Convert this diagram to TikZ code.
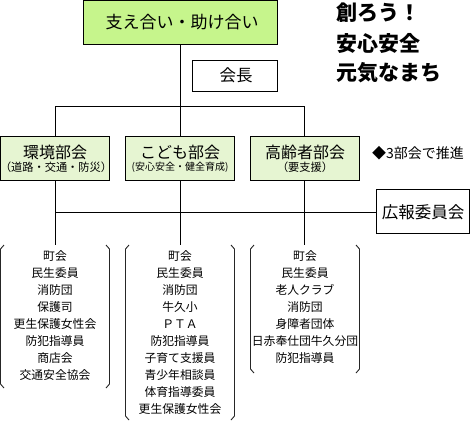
\documentclass[tikz,border=0pt]{standalone}
\usepackage{fontspec}
\setmainfont{Noto Sans CJK JP}
\begin{document}
\begin{tikzpicture}[x=1pt,y=-1pt,
  every node/.style={inner sep=0pt,outer sep=0pt},
  topbox/.style={draw=black,line width=1pt,fill=topgreen},
  subbox/.style={draw=black,line width=1pt,fill=subgreen},
  plainbox/.style={draw=black,line width=1pt,fill=white},
  conn/.style={draw=black,line width=1pt},
  brk/.style={draw=black!85,line width=0.9pt},
  item/.style={font=\fontsize{11.8}{12}\selectfont,anchor=center},
  slogan/.style={font=\bfseries\fontsize{21}{22}\selectfont,anchor=west}
]
\definecolor{topgreen}{HTML}{C6F58C}
\definecolor{subgreen}{HTML}{E6F5D2}
\useasboundingbox (0,0) rectangle (470,421);
\fill[white] (0,0) rectangle (470,421);

% top box
\draw[topbox] (83.5,0.5) rectangle (277,44);
\node[font=\fontsize{17}{18}\selectfont] (top) at (182,22) {支え合い・助け合い};
\coordinate (topb) at (180,44);

% chairman
\draw[plainbox] (192.5,60.5) rectangle (277,91);
\node[font=\fontsize{16.5}{17}\selectfont] (kaicho) at (236,75.5) {会長};

% slogan
\node[slogan] (s1) at (336,13) {創ろう！};
\node[slogan] (s2) at (336,43) {安心安全};
\node[slogan] (s3) at (336,73) {元気なまち};

% branch
\coordinate (b0) at (180,106);
\coordinate (bl) at (55,106);
\coordinate (br) at (304,106);
\draw[conn] (topb) -- (b0);
\draw[conn] (bl) -- (br);

% sub boxes
\draw[subbox] (0.5,136.5) rectangle (109,180);
\draw[subbox] (125.5,136.5) rectangle (234,180);
\draw[subbox] (250.5,136.5) rectangle (359,180);
\node[font=\fontsize{16}{16}\selectfont] (k1) at (55,152) {環境部会};
\node[font=\fontsize{11.2}{12}\selectfont] (k1s) at (56,167) {（道路・交通・防災）};
\node[font=\fontsize{16}{16}\selectfont] (k2) at (180,152) {こども部会};
\node[font=\fontsize{10}{12}\selectfont] (k2s) at (180,167) {(安心安全・健全育成)};
\node[font=\fontsize{16}{16}\selectfont] (k3) at (305,152) {高齢者部会};
\node[font=\fontsize{11.2}{12}\selectfont] (k3s) at (305,167) {（要支援）};
\coordinate (t1) at (55,136);
\coordinate (t2) at (180,136);
\coordinate (t3) at (304,136);
\draw[conn] (bl) -- (t1);
\draw[conn] (b0) -- (t2);
\draw[conn] (br) -- (t3);

\node[font=\fontsize{14}{14}\selectfont,anchor=west] (note) at (372,153) {◆3部会で推進};

% lower
\coordinate (u1) at (55,180);
\coordinate (u2) at (180,180);
\coordinate (u3) at (304,180);
\coordinate (d1) at (55,245);
\coordinate (d2) at (180,245);
\coordinate (d3) at (304,245);
\draw[conn] (u1) -- (d1);
\draw[conn] (u2) -- (d2);
\draw[conn] (u3) -- (d3);
\draw[plainbox] (376.5,189.5) rectangle (469,233);
\node[font=\fontsize{16.5}{17}\selectfont] (koho) at (423,212) {広報委員会};
\coordinate (hl) at (55,212);
\coordinate (hr) at (376.5,212);
\draw[conn] (hl) -- (hr);

% brackets
\newcommand{\grpbrk}[3]{%
  \draw[brk] (#1+4,245) -- (#1+0.5,249) -- (#1+0.5,#3-4) -- (#1+4,#3);
  \draw[brk] (#2-4,245) -- (#2-0.5,249) -- (#2-0.5,#3-4) -- (#2-4,#3);
}
\grpbrk{0}{110}{388}
\grpbrk{125}{235}{420}
\grpbrk{250}{360}{373}

% items
\foreach \t [count=\i from 0] in {町会,民生委員,消防団,保護司,更生保護女性会,防犯指導員,商店会,交通安全協会}
  \node[item] (a\i) at (55,256+17*\i) {\t};
\foreach \t [count=\i from 0] in {町会,民生委員,消防団,牛久小,ＰＴＡ,防犯指導員,子育て支援員,青少年相談員,体育指導委員,更生保護女性会}
  \node[item] (b\i) at (180,256+17*\i) {\t};
\foreach \t [count=\i from 0] in {町会,民生委員,老人クラブ,消防団,身障者団体,日赤奉仕団牛久分団,防犯指導員}
  \node[item] (c\i) at (305,256+17*\i) {\t};
\end{tikzpicture}
\end{document}
